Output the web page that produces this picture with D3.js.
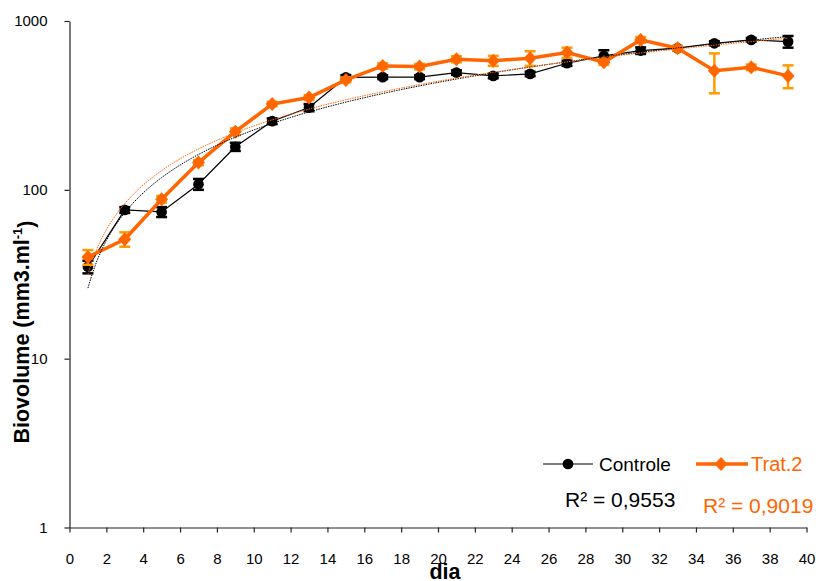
<!DOCTYPE html>
<html>
<head>
<meta charset="utf-8">
<script src="https://cdn.jsdelivr.net/npm/d3@7"></script>
<style>
  body { margin: 0; background: #fff; }
  svg { font-family: Arial, "Liberation Sans", sans-serif; }
</style>
</head>
<body>
<div id="chart"></div>
<script>
// days sampled
var days = [1, 3, 5, 7, 9, 11, 13, 15, 17, 19, 21, 23, 25, 27, 29, 31, 33, 35, 37, 39];

// Controle: mean biovolume and error
var controle = [35, 76, 74, 108, 180, 255, 307, 463, 465, 465, 495, 473, 486, 562, 621, 668, 690, 738, 773, 755];
var controleErr = [3, 3, 5, 8, 10, 10, 15, 15, 12, 12, 15, 15, 15, 20, 50, 30, 20, 20, 20, 60];

// Trat.2: mean biovolume and error
var trat2 = [40, 51, 88, 145, 221, 322, 352, 448, 542, 537, 594, 582, 602, 650, 570, 773, 690, 508, 532, 473];
var trat2Err = [4, 5, 4, 5, 10, 10, 12, 15, 20, 20, 25, 40, 60, 45, 20, 30, 20, 135, 20, 73];

var xTicks = d3.range(0, 41, 2);
var yTicks = [1, 10, 100, 1000];
var r2Labels = ["R² = 0,9553", "R² = 0,9019"];

var black = "#000000", orange = "#FF6600", orangeErr = "#FF9A00";

var width = 816, height = 581;
var svg = d3.select("#chart").append("svg")
    .attr("width", width)
    .attr("height", height);

var x = d3.scaleLinear().domain([0, 40]).range([69.5, 806.5]);
var y = d3.scaleLog().domain([1, 1000]).range([527.5, 21]);

// axes
var xAxis = svg.append("g")
    .attr("transform", "translate(0," + 527.5 + ")")
    .call(d3.axisBottom(x).tickValues(xTicks).tickSize(5).tickSizeOuter(0));
xAxis.selectAll("text")
    .attr("y", 36).attr("dy", 0)
    .style("font-size", "15px").style("fill", "#000");

var yAxis = svg.append("g")
    .attr("transform", "translate(" + 69.5 + ",0)")
    .call(d3.axisLeft(y).tickValues(yTicks).tickFormat(d3.format("d")).tickSize(5).tickSizeOuter(0).tickPadding(17));
yAxis.selectAll("text")
    .style("font-size", "15px").style("fill", "#000");
svg.selectAll(".domain, .tick line").attr("stroke", "#222").attr("stroke-width", 1.2);

// axis titles
svg.append("text")
    .attr("x", 445).attr("y", 579)
    .attr("text-anchor", "middle")
    .style("font-size", "21.5px").style("font-weight", "bold")
    .text("dia");

var yt = svg.append("text")
    .attr("transform", "translate(28.5,332) rotate(-90)")
    .attr("text-anchor", "middle")
    .style("font-size", "21.5px").style("font-weight", "bold");
yt.append("tspan").text("Biovolume (mm3.ml");
yt.append("tspan").attr("dy", "-0.5em").style("font-size", "13px").text("-1");
yt.append("tspan").attr("dy", "0.5em").text(")");

// power trendline fitted in log-log space
function powerFit(xs, ys) {
    var lx = xs.map(Math.log), ly = ys.map(Math.log);
    var mx = d3.mean(lx), my = d3.mean(ly);
    var b = d3.sum(lx, function (d, i) { return (d - mx) * (ly[i] - my); }) /
            d3.sum(lx, function (d) { return (d - mx) * (d - mx); });
    var a = Math.exp(my - b * mx);
    return function (t) { return a * Math.pow(t, b); };
}

function drawSeries(vals, errs, color, errColor, lw, shape) {
    var g = svg.append("g");
    // error bars
    var eb = g.selectAll(".err").data(vals).enter().append("g");
    eb.append("line")
        .attr("x1", function (d, i) { return x(days[i]); })
        .attr("x2", function (d, i) { return x(days[i]); })
        .attr("y1", function (d, i) { return y(d + errs[i]); })
        .attr("y2", function (d, i) { return y(d - errs[i]); })
        .attr("stroke", errColor).attr("stroke-width", 2.5);
    [1, -1].forEach(function (s) {
        eb.append("line")
            .attr("x1", function (d, i) { return x(days[i]) - 5.5; })
            .attr("x2", function (d, i) { return x(days[i]) + 5.5; })
            .attr("y1", function (d, i) { return y(d + s * errs[i]); })
            .attr("y2", function (d, i) { return y(d + s * errs[i]); })
            .attr("stroke", errColor).attr("stroke-width", 2.5);
    });
    // line
    g.append("path")
        .datum(vals)
        .attr("fill", "none")
        .attr("stroke", color)
        .attr("stroke-width", lw)
        .attr("d", d3.line()
            .x(function (d, i) { return x(days[i]); })
            .y(function (d) { return y(d); }));
    // markers
    g.selectAll(".mk").data(vals).enter().append("path")
        .attr("transform", function (d, i) { return "translate(" + x(days[i]) + "," + y(d) + ")"; })
        .attr("d", shape)
        .attr("fill", color);
}

var circle = d3.symbol().type(d3.symbolCircle).size(90)();
var diamond = "M0,-7L6.5,0L0,7L-6.5,0Z";

drawSeries(controle, controleErr, black, black, 1.2, circle);
drawSeries(trat2, trat2Err, orange, orangeErr, 3.5, diamond);

// trendlines
[[controle, black], [trat2, orange]].forEach(function (s) {
    var f = powerFit(days, s[0]);
    var pts = d3.range(1, 39.01, 0.25);
    svg.append("path")
        .datum(pts)
        .attr("fill", "none")
        .attr("stroke", s[1])
        .attr("stroke-width", 1)
        .attr("stroke-dasharray", "1.5,1")
        .attr("d", d3.line()
            .x(function (t) { return x(t); })
            .y(function (t) { return y(f(t)); }));
});

// legend
var lg = svg.append("g");
lg.append("line").attr("x1", 543).attr("x2", 593).attr("y1", 464).attr("y2", 464)
    .attr("stroke", black).attr("stroke-width", 1.2);
lg.append("path").attr("transform", "translate(568,464)").attr("d", circle).attr("fill", black);
lg.append("text").attr("x", 599).attr("y", 471).style("font-size", "19px").text("Controle");
lg.append("line").attr("x1", 696).attr("x2", 748).attr("y1", 464).attr("y2", 464)
    .attr("stroke", orange).attr("stroke-width", 3.5);
lg.append("path").attr("transform", "translate(721,464)").attr("d", diamond).attr("fill", orange);
lg.append("text").attr("x", 751).attr("y", 471).style("font-size", "20px").style("fill", orange).text("Trat.2");

// R² labels
svg.append("text").attr("x", 565).attr("y", 507).style("font-size", "21px").text(r2Labels[0]);
svg.append("text").attr("x", 703).attr("y", 512.5).style("font-size", "21px").style("fill", orange).text(r2Labels[1]);
</script>
</body>
</html>
